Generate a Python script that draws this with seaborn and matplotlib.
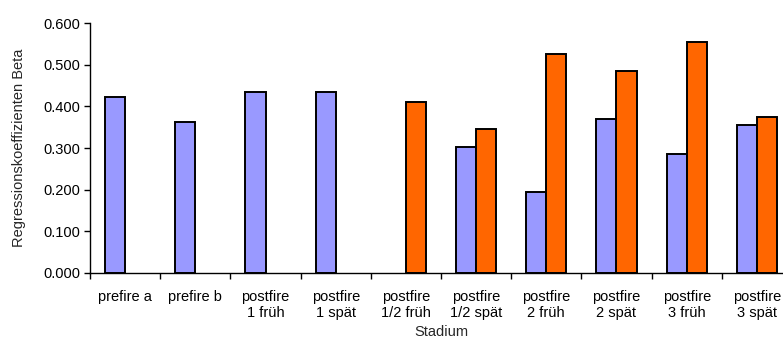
import numpy as np
import pandas as pd
import matplotlib
matplotlib.use("Agg")
import matplotlib.pyplot as plt
from matplotlib.ticker import FormatStrFormatter, MultipleLocator
import seaborn as sns

# Stages (x categories) and the two series of regression coefficients
stadien = ["prefire a", "prefire b", "postfire\n1 früh", "postfire\n1 spät",
           "postfire\n1/2 früh", "postfire\n1/2 spät", "postfire\n2 früh",
           "postfire\n2 spät", "postfire\n3 früh", "postfire\n3 spät"]
serie_a = [0.424, 0.362, 0.436, 0.436, np.nan, 0.302, 0.195, 0.369, 0.285, 0.355]
serie_b = [np.nan, np.nan, np.nan, np.nan, 0.410, 0.346, 0.526, 0.486, 0.556, 0.374]
serien = ["A", "B"]
farben = ["#9999FF", "#FF6600"]

df = pd.DataFrame({
    "Stadium": stadien * 2,
    "Beta": serie_a + serie_b,
    "Serie": [serien[0]] * len(stadien) + [serien[1]] * len(stadien),
})

sns.set_style("white")
plt.rcParams["font.family"] = ["Liberation Sans", "DejaVu Sans"]

fig = plt.figure(figsize=(7.83, 3.40), dpi=100)
ax = fig.add_axes([90 / 783, (340 - 272.7) / 340, (783 - 90) / 783, 249.3 / 340])

sns.barplot(data=df, x="Stadium", y="Beta", hue="Serie", order=stadien,
            hue_order=serien, palette=farben, width=0.57, dodge=True,
            edgecolor="black", linewidth=1.4, saturation=1, legend=False, ax=ax)

ax.yaxis.set_major_locator(MultipleLocator(0.1))
ax.yaxis.set_major_formatter(FormatStrFormatter("%.3f"))

# category boundaries carry the tick marks, labels sit centred without ticks
ax.set_xticks(np.arange(len(stadien) + 1) - 0.5, minor=True)
ax.tick_params(axis="x", which="major", length=0, labelsize=10.5, pad=12.5,
               colors="black")
ax.tick_params(axis="x", which="minor", length=4, width=1, direction="out",
               color="black", bottom=True)
ax.tick_params(axis="y", which="major", length=4, width=1, direction="out",
               left=True, labelsize=10.5, colors="black", pad=3)

# the category axis runs off the right edge of the figure
ax.set_ylim(0, 0.6)
ax.set_xlim(-0.5, (783 - 90) / 70.2 - 0.5)

for side in ["top", "right"]:
    ax.spines[side].set_visible(False)
for side in ["left", "bottom"]:
    ax.spines[side].set_color("black")
    ax.spines[side].set_linewidth(1)

ax.set_ylabel("Regressionskoeffizienten Beta", fontsize=10.5)
ax.yaxis.set_label_coords((26 - 90) / 693, 0.5)
ax.set_xlabel("Stadium", fontsize=10.5)
ax.xaxis.set_label_coords((441 - 90) / 693, -0.208)

fig.savefig("out.png", dpi=100)
